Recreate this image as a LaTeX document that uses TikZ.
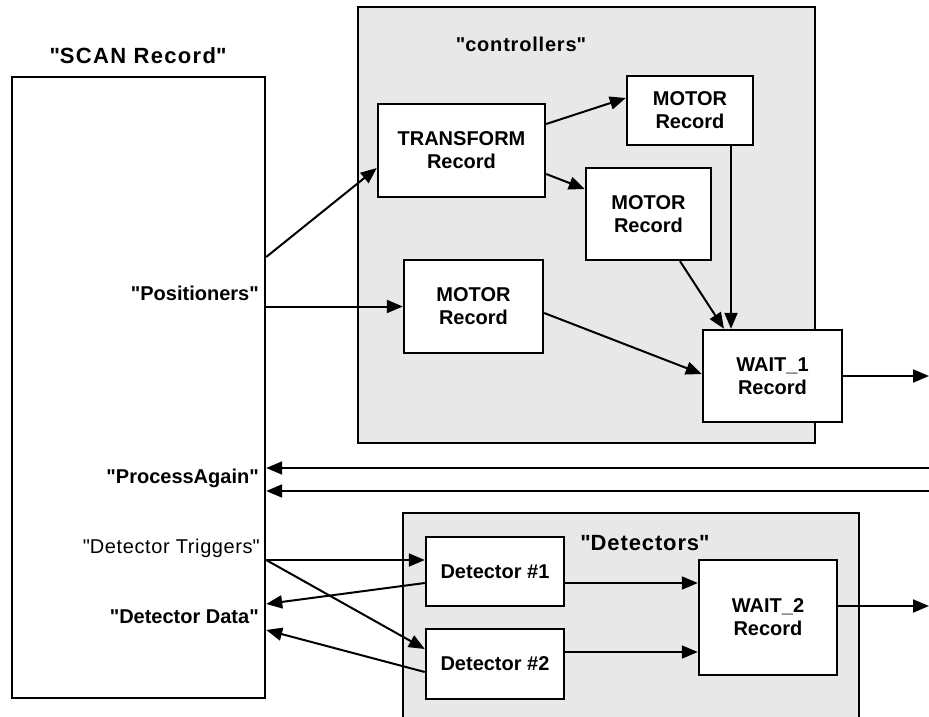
\documentclass[tikz,border=0pt]{standalone}
\usepackage{fontspec}
\setmainfont{Liberation Sans}
\usetikzlibrary{arrows.meta, positioning}
\newcommand{\qt}[1]{\textquotedbl#1\textquotedbl}

\begin{document}
\begin{tikzpicture}[
  x=1pt, y=-1pt,
  rec/.style={rectangle, draw, fill=white, line width=2.4pt, align=center,
              font=\fontsize{20}{23}\selectfont\bfseries, inner sep=0pt},
  grp/.style={rectangle, draw, fill=black!9, line width=2.4pt, inner sep=0pt},
  lbl/.style={font=\fontsize{20}{22}\selectfont\bfseries, inner sep=0pt},
  conn/.style={-{Triangle[length=16pt, width=13pt]}, line width=2pt},
  >=Stealth
]
\useasboundingbox (0,0) rectangle (929,717);
\node[grp, minimum width=457pt, minimum height=436pt] (ctrlgrp) at (586.5,225) {};
\node[grp, minimum width=456pt, minimum height=217pt] (detgrp) at (631,621.5) {};
\node[rec, minimum width=253pt, minimum height=621pt] (scan) at (138.5,387.5) {};
\node[lbl, font=\fontsize{22}{24}\selectfont\bfseries\addfontfeature{LetterSpace=6}] (scantitle) at (138,56) {\qt{SCAN Record}};
\node[lbl, font=\fontsize{20}{22}\selectfont\bfseries\addfontfeature{LetterSpace=4}] (ctrltitle) at (521,44) {\qt{controllers}};
\node[lbl, font=\fontsize{22}{24}\selectfont\bfseries\addfontfeature{LetterSpace=4}] (dettitle) at (645,543) {\qt{Detectors}};
\node[rec, minimum width=167pt, minimum height=93pt] (xform) at (461.5,150.5) {TRANSFORM\\Record};
\node[rec, minimum width=126pt, minimum height=69pt] (motorA) at (690,110.5) {MOTOR\\Record};
\node[rec, minimum width=125pt, minimum height=92pt] (motorB) at (648.5,214) {MOTOR\\Record};
\node[rec, minimum width=139pt, minimum height=93pt] (motorC) at (473.5,306.5) {MOTOR\\Record};
\node[rec, minimum width=139pt, minimum height=92pt] (waitA) at (772.5,376) {WAIT\_1\\Record};
\node[rec, minimum width=138pt, minimum height=69pt] (detA) at (495,571.5) {Detector \#1};
\node[rec, minimum width=138pt, minimum height=70pt] (detB) at (495,664) {Detector \#2};
\node[rec, minimum width=138pt, minimum height=115pt] (waitB) at (768,617.5) {WAIT\_2\\Record};
\node[lbl, anchor=east] (posl) at (259,293) {\qt{Positioners}};
\node[lbl, anchor=east] (procl) at (259,478) {\qt{ProcessAgain}};
\node[lbl, anchor=east, font=\fontsize{20}{22}\selectfont\addfontfeature{LetterSpace=3}] (trigl) at (260,548) {\qt{Detector Triggers}};
\node[lbl, anchor=east] (datal) at (259,617) {\qt{Detector Data}};
\coordinate (xfout) at (scan.east |- 0,257);
\coordinate (trig) at (scan.east |- 0,560);
\coordinate (dataA) at (scan.east |- 0,604);
\coordinate (dataB) at (scan.east |- 0,630);
\coordinate (procA) at (scan.east |- 0,468);
\coordinate (procB) at (scan.east |- 0,491);
\coordinate (inA) at (929,468);
\coordinate (inB) at (929,491);
\coordinate (outA) at (929,376);
\coordinate (outB) at (929,606);
\draw[conn] (xfout) -- ([yshift=-17.5pt]xform.west);
\draw[conn] (motorC.west -| scan.east) -- (motorC.west);
\draw[conn] ([yshift=26.5pt]xform.east) -- ([yshift=12.5pt]motorA.west);
\draw[conn] ([yshift=-23.5pt]xform.east) -- ([yshift=25pt]motorB.west);
\draw[conn] ([xshift=41pt]motorA.south) -- ([xshift=41pt]motorA.south |- waitA.north);
\draw[conn] ([xshift=31.5pt]motorB.south) -- ([xshift=-48.5pt]waitA.north);
\draw[conn] ([yshift=-6.5pt]motorC.east) -- ([yshift=2pt]waitA.west);
\draw[conn] (waitA.east) -- (outA);
\draw[conn] (inA) -- (procA);
\draw[conn] (inB) -- (procB);
\draw[conn] (trig) -- (trig -| detA.west);
\draw[conn] (trig) -- ([yshift=15pt]detB.west);
\draw[conn] ([yshift=-11.5pt]detA.west) -- (dataA);
\draw[conn] ([yshift=-8pt]detB.west) -- (dataB);
\draw[conn] ([yshift=-11.5pt]detA.east) -- ([yshift=-11.5pt]detA.east -| waitB.west);
\draw[conn] ([yshift=12pt]detB.east) -- ([yshift=12pt]detB.east -| waitB.west);
\draw[conn] ([yshift=11.5pt]waitB.east) -- (outB);
\end{tikzpicture}
\end{document}
